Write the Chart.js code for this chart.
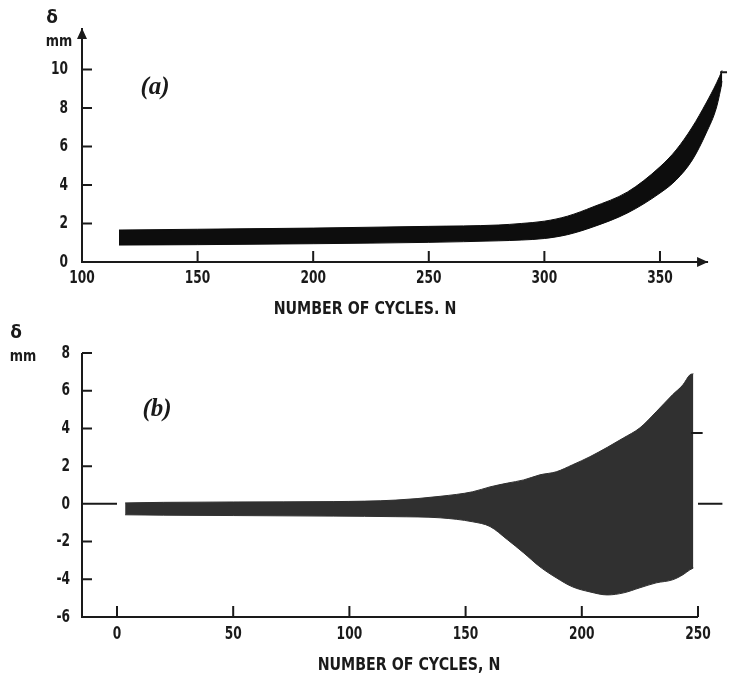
<!DOCTYPE html>
<html>
<head>
<meta charset="utf-8">
<script src="https://cdn.jsdelivr.net/npm/chart.js@4/dist/chart.umd.min.js"></script>
<style>
body { margin: 0; background: #fff; }
canvas { position: absolute; left: 0; top: 0; }
</style>
</head>
<body>
<canvas id="chart-a" width="729" height="674"></canvas>
<canvas id="chart-b" width="729" height="674"></canvas>
<script>
// (a) envelope of the displacement band
const cycles_a = [116, 150, 200, 250, 280, 290, 300, 310, 321, 336, 350, 357, 364, 370, 374.5, 377];
const upper_a  = [1.66, 1.70, 1.76, 1.85, 1.92, 2.00, 2.12, 2.38, 2.86, 3.64, 4.94, 5.82, 7.01, 8.26, 9.30, 9.97];
const lower_a  = [0.88, 0.90, 0.95, 1.02, 1.10, 1.14, 1.22, 1.42, 1.82, 2.55, 3.58, 4.26, 5.30, 6.70, 8.05, 9.40];
const xticks_a = [100, 150, 200, 250, 300, 350];
const yticks_a = [0, 2, 4, 6, 8, 10];

// (b) envelope of the oscillation
const cycles_b = [3.5, 20, 50, 93, 120, 139, 153, 160.5, 168, 175, 182, 189, 196, 203.5, 211, 218, 225, 232, 239, 243.5, 246.5, 248];
const upper_b  = [0.05, 0.08, 0.10, 0.12, 0.20, 0.40, 0.64, 0.90, 1.10, 1.27, 1.54, 1.70, 2.07, 2.50, 3.00, 3.50, 4.03, 4.88, 5.78, 6.31, 6.84, 6.90];
const lower_b  = [-0.58, -0.60, -0.62, -0.65, -0.68, -0.74, -0.95, -1.20, -1.90, -2.60, -3.34, -3.92, -4.40, -4.67, -4.83, -4.72, -4.45, -4.19, -4.03, -3.76, -3.50, -3.40];
const xticks_b = [0, 50, 100, 150, 200, 250];
const yticks_b = [-6, -4, -2, 0, 2, 4, 6, 8];

const FONT = "'DejaVu Sans', sans-serif";
const INK = '#1a1a1a';

function pts(xs, ys) {
    return xs.map((v, i) => ({ x: v, y: ys[i] }));
}

// narrow lettering: normal font squeezed sideways
function squeeze(ctx, txt, x, y, sx, align) {
    ctx.save();
    ctx.translate(x, y);
    ctx.scale(sx, 1);
    ctx.textAlign = align;
    ctx.fillText(txt, 0, 0);
    ctx.restore();
}

// axes drawn by hand: inside ticks, arrows, labels
const axes_plugin = {
    id: 'axesDraw',
    afterDraw(chart, args, o) {
        const ctx = chart.ctx, sx = chart.scales.x, sy = chart.scales.y;
        const left = chart.chartArea.left, bottom = chart.chartArea.bottom;
        const xe = sx.getPixelForValue(o.xEnd), ye = sy.getPixelForValue(o.yEnd);
        ctx.save();
        ctx.strokeStyle = INK;
        ctx.fillStyle = INK;
        ctx.lineWidth = 2;
        ctx.beginPath();
        ctx.moveTo(left, ye);
        ctx.lineTo(left, bottom);
        ctx.lineTo(xe, bottom);
        o.xMarks.forEach(v => {
            const p = sx.getPixelForValue(v);
            ctx.moveTo(p, bottom);
            ctx.lineTo(p, bottom - 11);
        });
        o.yMarks.forEach(v => {
            const p = sy.getPixelForValue(v);
            ctx.moveTo(left, p);
            ctx.lineTo(left + 10, p);
        });
        (o.dashes || []).forEach(d => {
            ctx.moveTo(sx.getPixelForValue(d[0]), sy.getPixelForValue(d[2]));
            ctx.lineTo(sx.getPixelForValue(d[1]), sy.getPixelForValue(d[2]));
        });
        ctx.stroke();
        if (o.arrows) {
            ctx.beginPath();
            ctx.moveTo(left, ye);
            ctx.lineTo(left - 5, ye + 11);
            ctx.lineTo(left + 5, ye + 11);
            ctx.closePath();
            ctx.moveTo(xe, bottom);
            ctx.lineTo(xe - 11, bottom - 5);
            ctx.lineTo(xe - 11, bottom + 5);
            ctx.closePath();
            ctx.fill();
        }
        ctx.textBaseline = 'middle';
        ctx.font = 'bold 18px ' + FONT;
        o.xLabels.forEach(v => squeeze(ctx, String(v), sx.getPixelForValue(v), bottom + o.xLabelDy, 0.68, 'center'));
        o.yLabels.forEach(v => squeeze(ctx, String(v), o.yLabelRight, sy.getPixelForValue(v), 0.68, 'right'));
        squeeze(ctx, o.title, o.titlePos[0], o.titlePos[1], 0.79, 'center');
        ctx.textAlign = 'center';
        ctx.font = 'bold 17px ' + FONT;
        ctx.fillText('δ', o.unitPos[0], o.unitPos[1]);
        ctx.font = 'bold 15px ' + FONT;
        squeeze(ctx, 'mm', o.unitPos[0] + 7, o.unitPos[1] + 23, 0.85, 'center');
        ctx.font = 'italic bold 25px "Liberation Serif"';
        ctx.fillText(o.tag, o.tagPos[0], o.tagPos[1]);
        ctx.restore();
    }
};

function make_chart(id, d) {
    return new Chart(document.getElementById(id), {
        type: 'line',
        data: {
            datasets: [{
                data: pts(d.xs, d.lo),
                borderColor: d.color,
                borderWidth: 1,
                pointRadius: 0,
                fill: false,
                cubicInterpolationMode: 'monotone'
            }, {
                data: pts(d.xs, d.hi),
                borderColor: d.color,
                backgroundColor: d.color,
                borderWidth: 1,
                pointRadius: 0,
                fill: '-1',
                cubicInterpolationMode: 'monotone'
            }]
        },
        options: {
            responsive: false,
            animation: false,
            devicePixelRatio: 1,
            layout: { padding: d.pad },
            plugins: {
                legend: { display: false },
                tooltip: { enabled: false },
                axesDraw: d.axes
            },
            scales: {
                x: {
                    type: 'linear',
                    min: d.xmin, max: d.xmax,
                    grid: { display: false },
                    border: { display: false },
                    afterBuildTicks: s => { s.ticks = d.xticks.map(v => ({ value: v })); },
                    afterFit: s => { s.height = 50; },
                    ticks: { display: false }
                },
                y: {
                    min: d.ymin, max: d.ymax,
                    grid: { display: false },
                    border: { display: false },
                    afterBuildTicks: s => { s.ticks = d.yticks.map(v => ({ value: v })); },
                    afterFit: s => { s.width = 82; },
                    ticks: { display: false }
                }
            }
        },
        plugins: [axes_plugin]
    });
}

make_chart('chart-a', {
    xs: cycles_a, hi: upper_a, lo: lower_a, color: '#0d0d0d',
    xmin: 100, xmax: 377, ymin: 0, ymax: 12.15,
    xticks: xticks_a, yticks: yticks_a,
    pad: { left: 0, top: 28, right: 6.6, bottom: 674 - 262 - 50 },
    axes: { xEnd: 370.8, yEnd: 12.15, arrows: true,
            xMarks: [150, 200, 250, 300, 350], yMarks: [2, 4, 6, 8, 10],
            xLabels: xticks_a, yLabels: yticks_a, xLabelDy: 16, yLabelRight: 68,
            dashes: [[376, 379, 9.85]],
            title: 'NUMBER OF CYCLES. N', titlePos: [365, 309],
            unitPos: [52, 19], tag: '(a)', tagPos: [155, 88] }
});

make_chart('chart-b', {
    xs: cycles_b, hi: upper_b, lo: lower_b, color: '#303030',
    xmin: -15.06, xmax: 260.5, ymin: -6, ymax: 8,
    xticks: xticks_b, yticks: yticks_b,
    pad: { left: 0, top: 353, right: 6.6, bottom: 674 - 617 - 50 },
    axes: { xEnd: 250, yEnd: 8, arrows: false,
            xMarks: xticks_b, yMarks: [-4, -2, 2, 4, 6, 8],
            xLabels: xticks_b, yLabels: yticks_b, xLabelDy: 17, yLabelRight: 70,
            dashes: [[-15.06, 0, 0], [250, 260.5, 0], [247, 252, 3.76]],
            title: 'NUMBER OF CYCLES, N', titlePos: [409, 665],
            unitPos: [16, 334], tag: '(b)', tagPos: [157, 410] }
});
</script>
</body>
</html>
